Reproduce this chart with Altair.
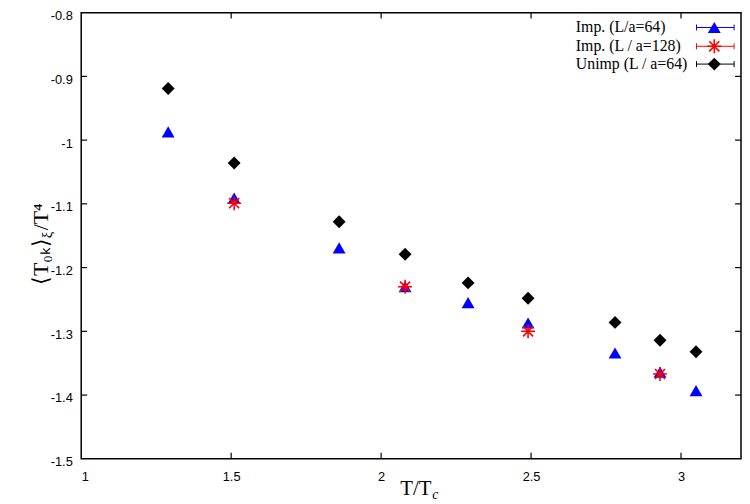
import altair as alt
import pandas as pd

# ---- data ----
x_imp64 = [1.29, 1.51, 1.86, 2.08, 2.29, 2.49, 2.78, 2.93, 3.05]
y_imp64 = [-0.987, -1.091, -1.169, -1.230, -1.255, -1.287, -1.334, -1.364, -1.393]
x_imp128 = [1.51, 2.08, 2.49, 2.93]
y_imp128 = [-1.099, -1.230, -1.300, -1.367]
x_unimp = [1.29, 1.51, 1.86, 2.08, 2.29, 2.49, 2.78, 2.93, 3.05]
y_unimp = [-0.919, -1.036, -1.128, -1.179, -1.224, -1.248, -1.286, -1.314, -1.332]

x_ticks = [1, 1.5, 2, 2.5, 3]
y_ticks = [-0.8, -0.9, -1.0, -1.1, -1.2, -1.3, -1.4, -1.5]
x_inner_ticks = [1.5, 2, 2.5, 3]
y_inner_ticks = [-0.9, -1.0, -1.1, -1.2, -1.3, -1.4]

legend_labels = ["Imp. (L/a=64)", "Imp. (L / a=128)", "Unimp (L / a=64)"]
legend_colors = ["#0000ff", "#ff0000", "#000000"]

W, H = 667, 451
STAR = "M-1,0L1,0M0,-1L0,1M-0.72,-0.72L0.72,0.72M-0.72,0.72L0.72,-0.72"

xs = alt.Scale(domain=[1, 3.2], nice=False, zero=False)
ys = alt.Scale(domain=[-1.5, -0.8], nice=False, zero=False)
axX = alt.Axis(values=x_ticks, title=None, labelExpr="'' + datum.value", labelPadding=12)
axY = alt.Axis(values=y_ticks, title=None, labelExpr="'' + datum.value", labelPadding=9,
               labelOffset=3)
X = alt.X("x:Q", scale=xs, axis=axX)
Y = alt.Y("y:Q", scale=ys, axis=axY)

df64 = pd.DataFrame({"x": x_imp64, "y": y_imp64})
df128 = pd.DataFrame({"x": x_imp128, "y": y_imp128})
dfun = pd.DataFrame({"x": x_unimp, "y": y_unimp})

tri = alt.Chart(df64).mark_point(shape="triangle-up", filled=True, color="#0000ff",
                                  size=170, opacity=1, strokeWidth=0).encode(x=X, y=Y)
star = alt.Chart(df128).mark_point(shape=STAR, filled=False, color="#ff0000",
                                    size=200, opacity=1, strokeWidth=1.6).encode(x=X, y=Y)
dia = alt.Chart(dfun).mark_point(shape="diamond", filled=True, color="#000000",
                                  size=170, opacity=1, strokeWidth=0).encode(x=X, y=Y)

# inward ticks (gnuplot style, mirrored)
xt = pd.DataFrame({"x": x_inner_ticks})
yt = pd.DataFrame({"y": y_inner_ticks})
TL = 6
tick_style = dict(color="black", strokeWidth=1.2)
tb = alt.Chart(xt).mark_rule(**tick_style).encode(x=X, y=alt.value(H), y2=alt.value(H - TL))
tt = alt.Chart(xt).mark_rule(**tick_style).encode(x=X, y=alt.value(0), y2=alt.value(TL))
tl = alt.Chart(yt).mark_rule(**tick_style).encode(y=Y, x=alt.value(0), x2=alt.value(TL))
tr = alt.Chart(yt).mark_rule(**tick_style).encode(y=Y, x=alt.value(W), x2=alt.value(W - TL))

one = pd.DataFrame({"a": [0]})
SERIF = "Liberation Serif"

def txt(s, x, y, size=20, align="left", angle=0, style="normal"):
    return alt.Chart(one).mark_text(text=s, font=SERIF, fontSize=size, align=align,
                                    baseline="alphabetic", angle=angle, fontStyle=style,
                                    color="black").encode(x=alt.value(x), y=alt.value(y))

# axis titles
xtitle = [txt("T/T", 354, 488, size=21, align="right"),
          txt("c", 355, 492, size=14, style="italic")]
YA = 228
ytitle = [txt("⟨T₀ₖ⟩", -34, YA, size=22, align="right", angle=270),
          txt("ξ", -30, YA, size=15, align="left", angle=270),
          txt("/T⁴", -34, YA - 8, size=22, align="left", angle=270)]

# manual legend (gnuplot style: text, then error-bar sample)
legend_layers = []
row_y = [15, 34, 52]
shapes = ["triangle-up", STAR, "diamond"]
for i in range(3):
    yy = row_y[i]
    c = legend_colors[i]
    legend_layers.append(txt(legend_labels[i], 500, yy + 5, size=16))
    legend_layers.append(alt.Chart(one).mark_rule(color=c, strokeWidth=1).encode(
        x=alt.value(622), x2=alt.value(660), y=alt.value(yy)))
    for ex in (622, 660):
        legend_layers.append(alt.Chart(one).mark_rule(color=c, strokeWidth=1).encode(
            x=alt.value(ex), y=alt.value(yy - 3), y2=alt.value(yy + 3)))
    if i == 1:
        m = alt.Chart(one).mark_point(shape=STAR, filled=False, color=c, size=200,
                                      opacity=1, strokeWidth=1.6)
    else:
        m = alt.Chart(one).mark_point(shape=shapes[i], filled=True, color=c, size=170,
                                      opacity=1, strokeWidth=0)
    legend_layers.append(m.encode(x=alt.value(640), y=alt.value(yy)))

chart = alt.layer(tri, star, dia, tb, tt, tl, tr, *xtitle, *ytitle, *legend_layers).properties(
    width=W, height=H,
    autosize=alt.AutoSizeParams(type="none"),
    padding={"left": 74, "top": 2, "right": 1, "bottom": 43},
).configure_view(stroke="black", strokeWidth=1.5).configure_axis(
    grid=False, domain=False, ticks=False, labelFont="Liberation Sans", labelFontSize=13,
    labelColor="black"
)

chart.save("out.html", embed_options={"renderer": "svg", "actions": False})
